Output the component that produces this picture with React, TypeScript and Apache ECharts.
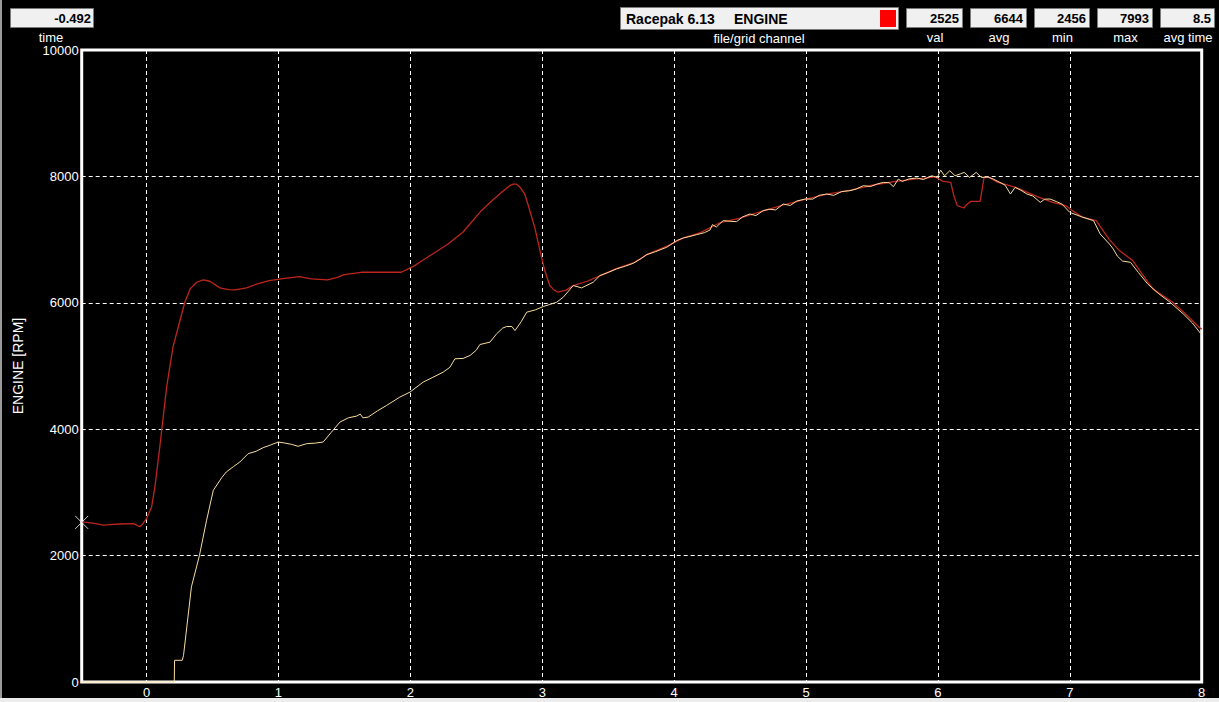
import React, { useEffect, useRef } from "react";
import * as echarts from "echarts";

const xTicks = [0, 1, 2, 3, 4, 5, 6, 7, 8];
const xMin = -0.492;
const xMax = 8;

const redT = [-0.492, -0.42, -0.325, -0.28, -0.2, -0.1, -0.05, -0.038, 0.0, 0.038, 0.063, 0.1, 0.152, 0.2, 0.253, 0.29, 0.33, 0.38, 0.43, 0.48, 0.556, 0.62, 0.67, 0.758, 0.84, 0.93, 1.018, 1.157, 1.25, 1.373, 1.44, 1.5, 1.626, 1.778, 1.93, 2.02, 2.1, 2.19, 2.285, 2.4, 2.538, 2.62, 2.69, 2.75, 2.779, 2.804, 2.835, 2.867, 2.9, 2.943, 2.98, 3.019, 3.057, 3.09, 3.12, 3.18, 3.235, 3.34, 3.44, 3.56, 3.69, 3.8, 3.95, 4.07, 4.2, 4.35, 4.5, 4.67, 4.83, 5.0, 5.16, 5.33, 5.5, 5.68, 5.84, 5.95, 5.98, 6.04, 6.097, 6.12, 6.147, 6.198, 6.22, 6.25, 6.32, 6.35, 6.388, 6.45, 6.59, 6.768, 6.87, 6.97, 7.02, 7.1, 7.2, 7.3, 7.376, 7.477, 7.55, 7.63, 7.78, 7.9, 7.98, 8.0];
const redV = [2533, 2517, 2481, 2491, 2500, 2507, 2456, 2481, 2587, 2770, 3086, 3718, 4666, 5298, 5720, 6009, 6220, 6325, 6362, 6341, 6236, 6210, 6204, 6236, 6300, 6350, 6378, 6415, 6380, 6362, 6400, 6446, 6483, 6483, 6483, 6573, 6680, 6800, 6931, 7120, 7458, 7620, 7747, 7850, 7879, 7879, 7820, 7721, 7500, 7194, 6850, 6510, 6273, 6200, 6167, 6200, 6273, 6341, 6430, 6540, 6630, 6770, 6900, 7026, 7110, 7270, 7340, 7450, 7550, 7640, 7720, 7780, 7860, 7920, 7960, 7985, 7993, 7920, 7905, 7700, 7537, 7500, 7560, 7605, 7605, 7984, 7984, 7910, 7826, 7668, 7589, 7537, 7458, 7350, 7300, 7000, 6826, 6668, 6450, 6220, 6009, 5780, 5614, 5580];

const yelT = [-0.492, 0.21, 0.212, 0.27, 0.28, 0.34, 0.4, 0.455, 0.506, 0.569, 0.604, 0.66, 0.707, 0.77, 0.83, 0.884, 0.94, 0.998, 1.048, 1.1, 1.149, 1.213, 1.28, 1.339, 1.4, 1.466, 1.53, 1.593, 1.62, 1.64, 1.68, 1.75, 1.82, 1.92, 1.997, 2.097, 2.17, 2.249, 2.3, 2.338, 2.4, 2.452, 2.5, 2.527, 2.603, 2.654, 2.7, 2.73, 2.77, 2.793, 2.84, 2.882, 2.95, 3.007, 3.06, 3.109, 3.159, 3.235, 3.298, 3.386, 3.437, 3.5, 3.563, 3.63, 3.69, 3.75, 3.791, 3.86, 3.943, 4.019, 4.069, 4.12, 4.17, 4.23, 4.272, 4.29, 4.32, 4.372, 4.42, 4.473, 4.52, 4.574, 4.62, 4.675, 4.72, 4.77, 4.827, 4.88, 4.93, 4.992, 5.05, 5.1, 5.156, 5.21, 5.27, 5.333, 5.38, 5.434, 5.49, 5.54, 5.586, 5.63, 5.663, 5.7, 5.73, 5.78, 5.84, 5.89, 5.953, 5.996, 6.02, 6.05, 6.09, 6.13, 6.17, 6.2, 6.24, 6.29, 6.33, 6.38, 6.42, 6.47, 6.51, 6.55, 6.585, 6.63, 6.675, 6.72, 6.776, 6.81, 6.85, 6.9, 6.94, 7.0, 7.09, 7.18, 7.23, 7.3, 7.33, 7.36, 7.4, 7.46, 7.52, 7.59, 7.67, 7.76, 7.86, 7.93, 7.99, 8.0];
const yelV = [0, 0, 343, 343, 420, 1506, 1996, 2560, 3034, 3230, 3323, 3410, 3481, 3613, 3650, 3708, 3750, 3797, 3781, 3760, 3729, 3771, 3780, 3797, 3950, 4113, 4180, 4208, 4240, 4180, 4192, 4290, 4376, 4508, 4587, 4745, 4820, 4903, 4980, 5114, 5120, 5166, 5250, 5340, 5377, 5509, 5600, 5625, 5625, 5560, 5700, 5851, 5890, 5941, 5975, 6009, 6088, 6273, 6236, 6325, 6431, 6480, 6536, 6580, 6625, 6700, 6762, 6810, 6878, 6984, 7026, 7050, 7078, 7110, 7152, 7236, 7200, 7300, 7290, 7284, 7360, 7405, 7380, 7458, 7480, 7470, 7563, 7540, 7610, 7642, 7640, 7700, 7721, 7700, 7760, 7774, 7800, 7853, 7840, 7880, 7905, 7900, 7837, 7958, 7920, 7960, 7974, 7950, 8010, 7984, 8100, 8010, 8090, 8010, 8040, 8063, 7984, 8063, 7984, 7990, 7958, 7905, 7860, 7721, 7826, 7780, 7721, 7690, 7589, 7640, 7642, 7600, 7563, 7431, 7360, 7300, 7089, 6931, 6850, 6740, 6660, 6641, 6480, 6299, 6150, 6009, 5825, 5680, 5519, 5500];

const cursorT = -0.492;
const cursorV = 2525;

const timeValue = "-0.492";
const channelFile = "Racepak 6.13";
const channelName = "ENGINE";
const statLabels = ["val", "avg", "min", "max", "avg time"];
const statValues = ["2525", "6644", "2456", "7993", "8.5"];
const yAxisName = "ENGINE [RPM]";

const FONT = "'Liberation Sans', Arial, sans-serif";

export default function App() {
  const ref = useRef<HTMLDivElement>(null);
  useEffect(() => {
    if (!ref.current) return;
    const chart = echarts.init(ref.current, undefined, { renderer: "svg" });
    const red = redT.map((t, i) => [t, redV[i]]);
    const yel = yelT.map((t, i) => [t, yelV[i]]);
    const boxX = [906, 970, 1034, 1097, 1160];
    const boxW = [56, 56, 55, 55, 54];
    const graphics: any[] = [
      { type: "rect", left: 0, top: 0, shape: { width: 2, height: 702 }, style: { fill: "#9a9a9a" }, z: 10 },
      { type: "rect", left: 0, top: 698, shape: { width: 1219, height: 4 }, style: { fill: "#ececec" }, z: 10 },
      { type: "rect", shape: { x: 10.5, y: 8.5, width: 83, height: 19 }, style: { fill: "#f0f0f0", stroke: "#7a7a7a", lineWidth: 1 }, z: 10 },
      { type: "text", x: 91, y: 18.5, style: { text: timeValue, align: "right", verticalAlign: "middle", font: "bold 13px " + FONT, fill: "#000" }, z: 11 },
      { type: "text", x: 51, y: 37, style: { text: "time", align: "center", verticalAlign: "middle", font: "13px " + FONT, fill: "#fff" }, z: 11 },
      { type: "rect", shape: { x: 620.5, y: 7.5, width: 278, height: 22 }, style: { fill: "#f0f0f0", stroke: "#7a7a7a", lineWidth: 1 }, z: 10 },
      { type: "text", x: 626, y: 18.5, style: { text: channelFile, align: "left", verticalAlign: "middle", font: "bold 14px " + FONT, fill: "#000" }, z: 11 },
      { type: "text", x: 734, y: 18.5, style: { text: channelName, align: "left", verticalAlign: "middle", font: "bold 14px " + FONT, fill: "#000" }, z: 11 },
      { type: "rect", shape: { x: 880, y: 10, width: 16, height: 17 }, style: { fill: "#ff0000" }, z: 11 },
      { type: "text", x: 759, y: 38, style: { text: "file/grid channel", align: "center", verticalAlign: "middle", font: "13px " + FONT, fill: "#fff" }, z: 11 },
    ];
    statLabels.forEach((lab, i) => {
      graphics.push({ type: "rect", shape: { x: boxX[i] + 0.5, y: 8.5, width: boxW[i], height: 19 }, style: { fill: "#f0f0f0", stroke: "#7a7a7a", lineWidth: 1 }, z: 10 });
      graphics.push({ type: "text", x: boxX[i] + boxW[i] - 3, y: 18.5, style: { text: statValues[i], align: "right", verticalAlign: "middle", font: "bold 13px " + FONT, fill: "#000" }, z: 11 });
      graphics.push({ type: "text", x: boxX[i] + boxW[i] / 2 + 1, y: 37, style: { text: lab, align: "center", verticalAlign: "middle", font: "13px " + FONT, fill: "#fff" }, z: 11 });
    });

    chart.setOption({
      animation: false,
      backgroundColor: "#000",
      textStyle: { fontFamily: FONT },
      grid: { left: 81.7, top: 50, width: 1120, height: 632, show: true, borderColor: "#fff", borderWidth: 3, backgroundColor: "#000", containLabel: false, outerBoundsMode: "none" },
      xAxis: {
        type: "value",
        min: xMin,
        max: xMax,
        axisLine: { show: false },
        axisTick: { show: false, customValues: xTicks },
        axisLabel: { customValues: xTicks, color: "#fff", fontSize: 13, margin: 4, fontFamily: FONT },
        splitLine: { show: true, lineStyle: { color: "#fff", type: [4, 3], width: 1 } },
      },
      yAxis: {
        type: "value",
        min: 0,
        max: 10000,
        interval: 2000,
        name: yAxisName,
        nameLocation: "middle",
        nameGap: 57,
        nameTextStyle: { color: "#fff", fontSize: 14, fontFamily: FONT },
        axisLine: { show: false },
        axisTick: { show: false },
        axisLabel: { color: "#fff", fontSize: 13, margin: 3, fontFamily: FONT, formatter: (v: number) => String(v) },
        splitLine: { show: true, lineStyle: { color: "#fff", type: [4, 3], width: 1 } },
      },
      graphic: graphics,
      series: [
        { type: "line", data: red, showSymbol: false, symbol: "none", lineStyle: { color: "#bd261c", width: 1.3 }, z: 3 },
        { type: "line", data: yel, showSymbol: false, symbol: "none", clip: false, lineStyle: { color: "#f7dca0", width: 1 }, z: 4 },
        {
          type: "scatter",
          data: [[cursorT, cursorV]],
          symbol: "path://M0,0L10,10M10,0L0,10",
          symbolSize: 13,
          clip: false,
          itemStyle: { color: "none", borderColor: "#fff", borderWidth: 1 },
          z: 5,
        },
      ],
    });
    return () => chart.dispose();
  }, []);
  return <div ref={ref} style={{ position: "fixed", left: 0, top: 0, width: 1219, height: 702, background: "#000" }} />;
}
